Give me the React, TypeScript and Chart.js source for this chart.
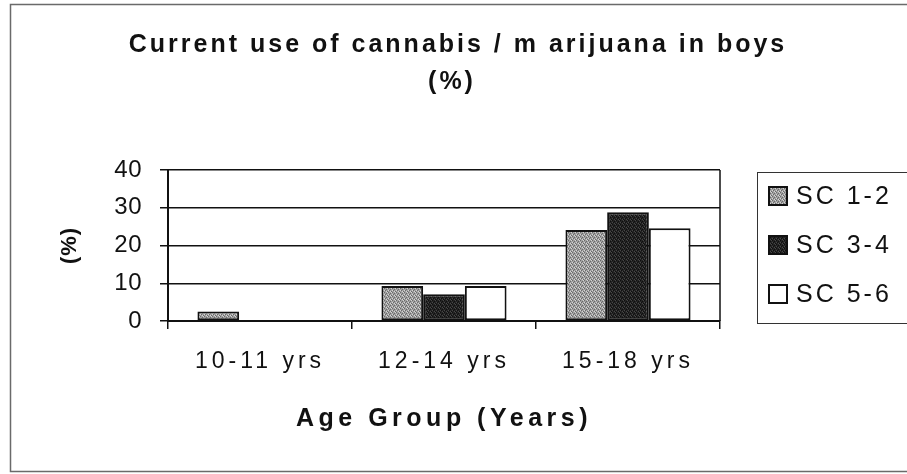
import { useEffect, useRef } from "react";
import { Chart, registerables } from "chart.js";

Chart.register(...registerables);

// Age groups on the category axis
const categories = ["10-11 yrs", "12-14 yrs", "15-18 yrs"];
// Social class groups (one series each)
const seriesNames = ["SC 1-2", "SC 3-4", "SC 5-6"];
const sc12 = [2.5, 9.3, 24.1];
const sc34 = [0, 7.1, 28.8];
const sc56 = [0, 9.3, 24.6];
const yTickValues = [0, 10, 20, 30, 40];

const titleLines = ["Current use of cannabis / m arijuana in boys", "(%)"];
const xAxisTitle = "Age Group (Years)";
const yAxisTitle = "(%)";

const FONT = "'Liberation Sans', Arial, Helvetica, sans-serif";

function makePattern(
  ctx: CanvasRenderingContext2D,
  base: string,
  dark: string,
  light: string
): CanvasPattern | string {
  const c = document.createElement("canvas");
  c.width = 4;
  c.height = 4;
  const g = c.getContext("2d");
  if (!g) return base;
  g.fillStyle = base;
  g.fillRect(0, 0, 4, 4);
  g.fillStyle = dark;
  [[0, 0], [2, 1], [1, 2], [3, 3]].forEach(([x, y]) => g.fillRect(x, y, 1, 1));
  g.fillStyle = light;
  [[2, 3], [0, 2], [3, 0]].forEach(([x, y]) => g.fillRect(x, y, 1, 1));
  return ctx.createPattern(c, "repeat") || base;
}

// Wraps one drawing method of a scale so its text uses the given letter spacing.
function withSpacing(scale: any, method: string, px: string) {
  const orig = scale[method].bind(scale);
  scale[method] = (...args: any[]) => {
    const prev = scale.ctx.letterSpacing;
    scale.ctx.letterSpacing = px;
    orig(...args);
    scale.ctx.letterSpacing = prev;
  };
}

export default function App() {
  const canvasRef = useRef<HTMLCanvasElement | null>(null);

  useEffect(() => {
    const canvas = canvasRef.current;
    if (!canvas) return;
    const ctx = canvas.getContext("2d");
    if (!ctx) return;

    const fills = [
      makePattern(ctx, "#a0a0a0", "#6a6a6a", "#d4d4d4"),
      makePattern(ctx, "#242424", "#0e0e0e", "#474747"),
      "#ffffff",
    ];
    const values = [sc12, sc34, sc56];

    const frame = {
      id: "frame",
      beforeDraw(chart: any) {
        const c = chart.ctx as CanvasRenderingContext2D;
        c.letterSpacing = "0px";
        c.save();
        c.fillStyle = "#ffffff";
        c.fillRect(0, 0, chart.width, chart.height);
        // page frame
        c.strokeStyle = "#6a6a6a";
        c.lineWidth = 1.5;
        c.beginPath();
        c.moveTo(chart.width, 4.5);
        c.lineTo(10.5, 4.5);
        c.lineTo(10.5, 471.5);
        c.lineTo(chart.width, 471.5);
        c.stroke();
        c.restore();
      },
    };

    const decorations = {
      id: "decorations",
      afterDraw(chart: any) {
        const c = chart.ctx as CanvasRenderingContext2D;
        const area = chart.chartArea;
        c.save();
        // right edge of the plot frame
        c.strokeStyle = "#111111";
        c.lineWidth = 1.5;
        c.beginPath();
        c.moveTo(area.right, area.top);
        c.lineTo(area.right, area.bottom);
        c.stroke();

        // chart title
        c.fillStyle = "#111111";
        c.textAlign = "center";
        c.textBaseline = "middle";
        c.font = `bold 25px ${FONT}`;
        c.letterSpacing = "3px";
        c.fillText(titleLines[0], 458, 45);
        c.fillText(titleLines[1], 452, 82);

        // legend
        const lx = 757;
        const ly = 172;
        c.strokeStyle = "#333333";
        c.lineWidth = 1;
        c.strokeRect(lx + 0.5, ly + 0.5, 200, 151);
        c.font = `25px ${FONT}`;
        c.letterSpacing = "3px";
        c.textAlign = "left";
        chart.data.datasets.forEach((ds: any, i: number) => {
          const cy = 196 + i * 49;
          c.fillStyle = ds.backgroundColor;
          c.fillRect(769, cy - 9, 18, 18);
          c.strokeStyle = "#111111";
          c.lineWidth = 2;
          c.strokeRect(769, cy - 9, 18, 18);
          c.fillStyle = "#111111";
          c.fillText(ds.label, 796, cy + 1);
        });
        c.restore();
      },
    };

    const chart = new Chart(ctx, {
      type: "bar",
      data: {
        labels: categories,
        datasets: seriesNames.map((name, i) => ({
          label: name,
          data: values[i],
          backgroundColor: fills[i] as any,
          borderColor: "#111111",
          borderWidth: 2,
          borderSkipped: false,
          categoryPercentage: 0.68,
          barPercentage: 1,
        })),
      },
      options: {
        responsive: false,
        animation: false,
        layout: { padding: { left: 0, top: 170, right: 187, bottom: 0 } },
        plugins: {
          legend: { display: false },
          title: { display: false },
          tooltip: { enabled: false },
        },
        scales: {
          x: {
            afterFit(scale: any) {
              scale.height = 153;
            },
            grid: {
              display: true,
              drawOnChartArea: false,
              drawTicks: true,
              tickLength: 8,
              color: "#111111",
              lineWidth: 1.5,
              offset: true,
            },
            border: { display: true, color: "#111111", width: 2 },
            ticks: {
              color: "#111111",
              padding: 19,
              font: { family: FONT, size: 23 },
            },
            title: {
              display: true,
              text: xAxisTitle,
              color: "#111111",
              font: { family: FONT, size: 25, weight: "bold" },
              padding: { top: 0, bottom: 40 },
            },
          },
          y: {
            min: 0,
            max: 40,
            afterFit(scale: any) {
              scale.width = 168;
            },
            afterBuildTicks(scale: any) {
              scale.ticks = yTickValues.map((v) => ({ value: v }));
            },
            grid: {
              color: "#111111",
              lineWidth: 1.5,
              tickLength: 8,
              drawTicks: true,
            },
            border: { display: true, color: "#111111", width: 2 },
            ticks: {
              color: "#111111",
              padding: 18,
              font: { family: FONT, size: 24 },
            },
            title: {
              display: true,
              text: yAxisTitle,
              color: "#111111",
              font: { family: FONT, size: 22, weight: "bold" },
              padding: { top: 57, bottom: 0 },
            },
          },
        },
      },
      plugins: [frame, decorations],
    });

    withSpacing(chart.scales.x, "drawLabels", "4px");
    withSpacing(chart.scales.x, "drawTitle", "4.5px");
    withSpacing(chart.scales.y, "drawLabels", "0.5px");
    withSpacing(chart.scales.y, "drawTitle", "1px");
    chart.draw();

    return () => chart.destroy();
  }, []);

  return (
    <div style={{ position: "fixed", left: 0, top: 0, width: 907, height: 474 }}>
      <canvas ref={canvasRef} width={907} height={474} style={{ width: 907, height: 474, display: "block" }} />
    </div>
  );
}
